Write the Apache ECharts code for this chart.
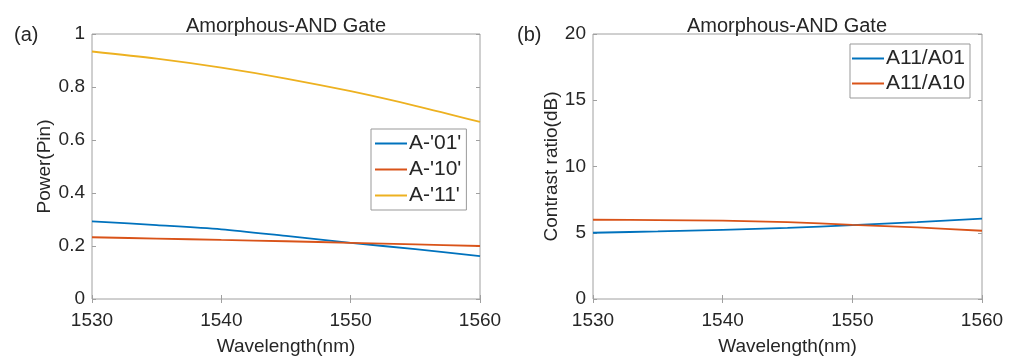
<!DOCTYPE html>
<html>
<head>
<meta charset="utf-8">
<script src="https://cdn.jsdelivr.net/npm/echarts@6/dist/echarts.min.js"></script>
<style>
  html, body { margin: 0; padding: 0; background: #fff; }
  #main { width: 1017px; height: 361px; }
</style>
</head>
<body>
<div id="main"></div>
<script>
// wavelength samples (nm)
var wavelength = [1530, 1535, 1540, 1545, 1550, 1555, 1560];

// panel (a): output power
var powerA01 = [0.293, 0.279, 0.263, 0.238, 0.212, 0.188, 0.162];
var powerA10 = [0.233, 0.228, 0.223, 0.218, 0.212, 0.206, 0.200];
var powerA11 = [0.934, 0.907, 0.873, 0.832, 0.784, 0.729, 0.668];

// panel (b): contrast ratio
var crA11A01 = [5.00, 5.10, 5.22, 5.37, 5.57, 5.80, 6.07];
var crA11A10 = [5.98, 5.96, 5.91, 5.80, 5.60, 5.40, 5.15];

var seriesNamesA = ["A-'01'", "A-'10'", "A-'11'"];
var seriesNamesB = ['A11/A01', 'A11/A10'];
var colors = ['#0072BD', '#D95319', '#EDB120'];

function pairs(xs, ys) {
  return xs.map(function (x, i) { return [x, ys[i]]; });
}

var font = 'Liberation Sans, Arial, sans-serif';
var txt = '#262626';
var boxColor = '#a0a0a0';

function xAx(grid, pos, labels) {
  return {
    type: 'value', gridIndex: grid, position: pos,
    min: 1530, max: 1560, interval: 10,
    axisLine: { show: false },
    axisTick: { show: true, inside: true, length: 4, lineStyle: { color: boxColor } },
    splitLine: { show: false },
    axisLabel: { show: labels, color: txt, fontSize: 19, fontFamily: font, margin: 12,
      formatter: function (v) { return String(v); } },
    name: labels ? 'Wavelength(nm)' : '',
    nameLocation: 'middle', nameGap: 38,
    nameTextStyle: { color: txt, fontSize: 19, fontFamily: font }
  };
}
function yAx(grid, pos, labels, max, interval, name, gap) {
  return {
    type: 'value', gridIndex: grid, position: pos,
    min: 0, max: max, interval: interval,
    axisLine: { show: false },
    axisTick: { show: true, inside: true, length: 4, lineStyle: { color: boxColor } },
    splitLine: { show: false },
    axisLabel: { show: labels, color: txt, fontSize: 19, fontFamily: font, margin: 7 },
    name: labels ? name : '',
    nameLocation: 'middle', nameGap: gap, nameRotate: 90,
    nameTextStyle: { color: txt, fontSize: 19, fontFamily: font }
  };
}

var myChart = echarts.init(document.getElementById('main'));
var option = {
  backgroundColor: '#fff',
  animation: false,
  title: [
    { text: 'Amorphous-AND Gate', left: 281, top: 11, textAlign: 'center',
      textStyle: { color: txt, fontSize: 20, fontWeight: 'normal', fontFamily: font } },
    { text: 'Amorphous-AND Gate', left: 782, top: 11, textAlign: 'center',
      textStyle: { color: txt, fontSize: 20, fontWeight: 'normal', fontFamily: font } },
    { text: '(a)', left: 9, top: 20,
      textStyle: { color: txt, fontSize: 20, fontWeight: 'normal', fontFamily: font } },
    { text: '(b)', left: 512, top: 20,
      textStyle: { color: txt, fontSize: 20, fontWeight: 'normal', fontFamily: font } }
  ],
  grid: [
    { left: 92, top: 34, width: 388, height: 267, show: true, borderColor: boxColor, borderWidth: 1 },
    { left: 593, top: 34, width: 389, height: 267, show: true, borderColor: boxColor, borderWidth: 1 }
  ],
  xAxis: [xAx(0, 'bottom', true), xAx(0, 'top', false), xAx(1, 'bottom', true), xAx(1, 'top', false)],
  yAxis: [
    yAx(0, 'left', true, 1, 0.2, 'Power(Pin)', 38), yAx(0, 'right', false, 1, 0.2, '', 0),
    yAx(1, 'left', true, 20, 5, 'Contrast ratio(dB)', 32), yAx(1, 'right', false, 20, 5, '', 0)
  ],
  legend: [
    { data: seriesNamesA, orient: 'vertical', left: 371, top: 129,
      itemWidth: 32, itemHeight: 2, itemGap: 5, icon: 'rect',
      padding: [4, 5, 4, 4], borderColor: '#999', borderWidth: 1, borderRadius: 0,
      textStyle: { color: txt, fontSize: 21, fontFamily: font, padding: [0, 0, 0, -3] } },
    { data: seriesNamesB, orient: 'vertical', left: 850, top: 44,
      itemWidth: 32, itemHeight: 2, itemGap: 4, icon: 'rect',
      padding: [4, 5, 4, 2], borderColor: '#999', borderWidth: 1, borderRadius: 0,
      textStyle: { color: txt, fontSize: 21, fontFamily: font, padding: [0, 0, 0, -3] } }
  ],
  series: [
    { name: seriesNamesA[0], type: 'line', xAxisIndex: 0, yAxisIndex: 0, data: pairs(wavelength, powerA01) },
    { name: seriesNamesA[1], type: 'line', xAxisIndex: 0, yAxisIndex: 0, data: pairs(wavelength, powerA10) },
    { name: seriesNamesA[2], type: 'line', xAxisIndex: 0, yAxisIndex: 0, data: pairs(wavelength, powerA11) },
    { name: seriesNamesB[0], type: 'line', xAxisIndex: 2, yAxisIndex: 2, data: pairs(wavelength, crA11A01) },
    { name: seriesNamesB[1], type: 'line', xAxisIndex: 2, yAxisIndex: 2, data: pairs(wavelength, crA11A10) }
  ].map(function (s, i) {
    var c = colors[i < 3 ? i : i - 3];
    s.smooth = 0.3;
    s.showSymbol = false;
    s.symbol = 'none';
    s.lineStyle = { color: c, width: 1.8 };
    s.itemStyle = { color: c };
    return s;
  })
};
myChart.setOption(option);
</script>
</body>
</html>
